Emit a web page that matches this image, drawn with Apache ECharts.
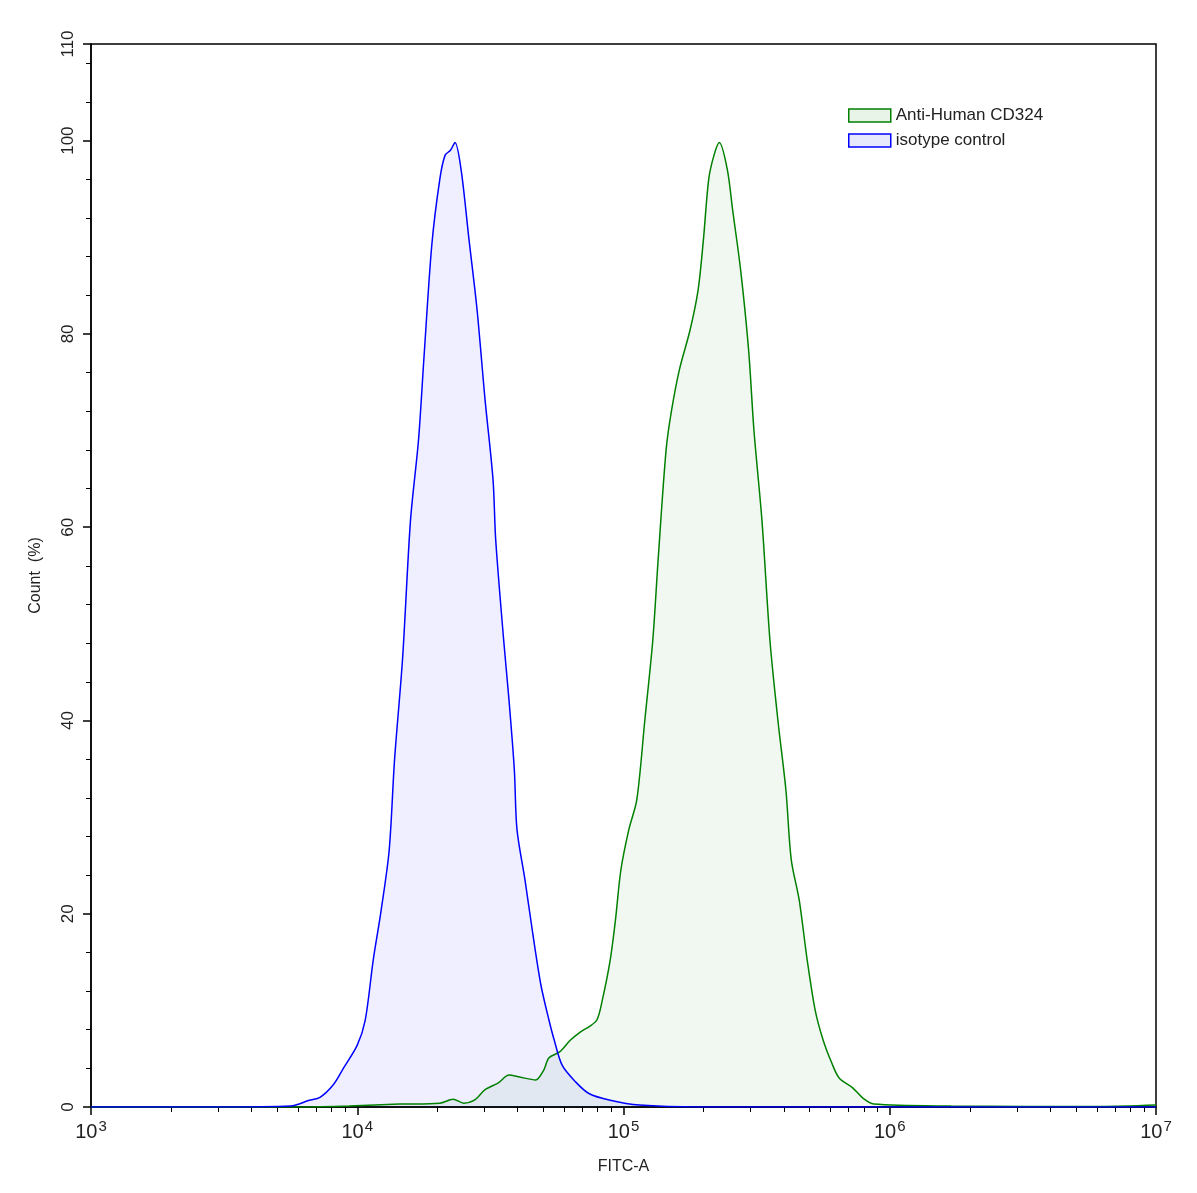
<!DOCTYPE html>
<html><head><meta charset="utf-8">
<script src="https://cdn.jsdelivr.net/npm/echarts@6/dist/echarts.min.js"></script>
<style>html,body{margin:0;padding:0;background:#fff}#c{width:1197px;height:1193px}</style>
</head><body><div id="c"></div>
<script>
// x values are log10(FITC-A)
const blueX=[3.0,3.48,3.75,3.82,3.86,3.91,3.95,4.00,4.03,4.06,4.09,4.12,4.14,4.17,4.20,4.23,4.25,4.28,4.31,4.33,4.35,4.367,4.39,4.42,4.45,4.48,4.51,4.52,4.55,4.57,4.59,4.60,4.63,4.66,4.69,4.72,4.74,4.77,4.82,4.87,4.95,5.06,5.29,7.0];
const blueY=[0,0,0.1,0.7,1.0,2.3,4.1,6.4,9,15.2,20.4,26.6,35.9,46.3,60.7,69,77.3,89.2,96,98.5,99,99.8,97,89.7,82.5,73.2,64.9,58.7,48.3,42.1,34.9,28.7,23.5,17.8,12.6,9,6.9,4.3,2.6,1.4,0.7,0.2,0,0];
const greenX=[3.0,3.79,3.97,4.16,4.31,4.36,4.40,4.44,4.48,4.53,4.57,4.61,4.67,4.70,4.72,4.76,4.80,4.84,4.87,4.90,4.92,4.95,4.97,4.99,5.02,5.05,5.08,5.11,5.13,5.16,5.18,5.21,5.25,5.28,5.30,5.32,5.34,5.36,5.39,5.41,5.44,5.47,5.49,5.52,5.55,5.58,5.61,5.63,5.66,5.69,5.72,5.75,5.78,5.81,5.86,5.90,5.94,6.23,6.79,7.0];
const greenY=[0,0,0.1,0.3,0.4,0.8,0.4,0.7,1.8,2.5,3.3,3.1,2.8,3.8,5.1,5.7,6.9,7.8,8.3,9,11,15.2,19.4,24.5,28.7,31.8,40,48.3,56.6,68,72,76.3,80.4,84.5,89.7,96,98.5,99.8,97,92.8,86.6,78.3,70,60.7,48.3,40,32.8,25.6,21.4,15.2,10,6.9,4.7,3,2,0.9,0.3,0.1,0.05,0.2];
const xMajor=[3,4,5,6,7];
const yLabels=[0,20,40,60,80,100,110];
const names=['Anti-Human CD324','isotype control'];

const xMinor=[];for(let d=3;d<7;d++)for(let k=2;k<10;k++)xMinor.push(d+Math.log10(k));
const yMinor=[];for(let v=4;v<110;v+=4)if(v%20)yMinor.push(v);
const zip=(a,b)=>a.map((v,i)=>[v,b[i]]);
const font='Arial, Liberation Sans, sans-serif';
const chart=echarts.init(document.getElementById('c'));
chart.setOption({
  animation:false,
  grid:{left:91,right:41,top:44,bottom:86,show:true,borderColor:'#000',borderWidth:1.5,backgroundColor:'transparent'},
  legend:{left:843,top:102,orient:'vertical',itemWidth:42,itemHeight:13,itemGap:8,
    textStyle:{fontSize:17,color:'#222',fontFamily:font},
    data:[{name:names[0],icon:'rect',itemStyle:{color:'#e8f4e8',borderColor:'#008000',borderWidth:1.5}},
          {name:names[1],icon:'rect',itemStyle:{color:'#e6e8fb',borderColor:'#0000ff',borderWidth:1.5}}]},
  xAxis:[{type:'value',min:3,max:7,interval:1,name:'FITC-A',nameLocation:'middle',nameGap:52,
    nameTextStyle:{fontSize:16,color:'#222',fontFamily:font},
    axisLine:{lineStyle:{color:'#000',width:1.5}},axisTick:{length:8,lineStyle:{color:'#000',width:1.5}},splitLine:{show:false},
    axisLabel:{margin:12,formatter:v=>'{b|10}{s|'+v+'}',rich:{b:{fontSize:20,color:'#222',fontFamily:font},s:{fontSize:15,color:'#222',fontFamily:font,verticalAlign:'top',padding:[0,0,12,1]}}}},
   {type:'value',min:3,max:7,position:'bottom',axisLine:{show:false},axisLabel:{show:false},splitLine:{show:false},
    axisTick:{length:5,customValues:xMinor,lineStyle:{color:'#000',width:1}}}],
  yAxis:[{type:'value',min:0,max:110,name:'Count  (%)',nameLocation:'middle',nameGap:47,
    nameTextStyle:{fontSize:16,color:'#222',fontFamily:font},
    axisLine:{show:true,lineStyle:{color:'#000',width:1.5}},splitLine:{show:false},
    axisTick:{show:true,length:8,customValues:yLabels,lineStyle:{color:'#000',width:1.5}},
    axisLabel:{customValues:yLabels,rotate:90,margin:14,fontSize:17,color:'#222',fontFamily:font}},
   {type:'value',min:0,max:110,position:'left',axisLine:{show:false},axisLabel:{show:false},splitLine:{show:false},
    axisTick:{show:true,length:5,customValues:yMinor,lineStyle:{color:'#000',width:1}}}],
  series:[
   {name:names[0],type:'line',data:zip(greenX,greenY),smooth:0.3,symbol:'none',
    lineStyle:{color:'#008000',width:1.5},itemStyle:{color:'#008000'},areaStyle:{color:'rgba(0,128,0,0.08)'}},
   {name:names[1],type:'line',data:zip(blueX,blueY),smooth:0.3,symbol:'none',
    lineStyle:{color:'#0000ff',width:1.5},itemStyle:{color:'#0000ff'},areaStyle:{color:'rgba(0,0,255,0.09)'}}
  ]
});
</script></body></html>
